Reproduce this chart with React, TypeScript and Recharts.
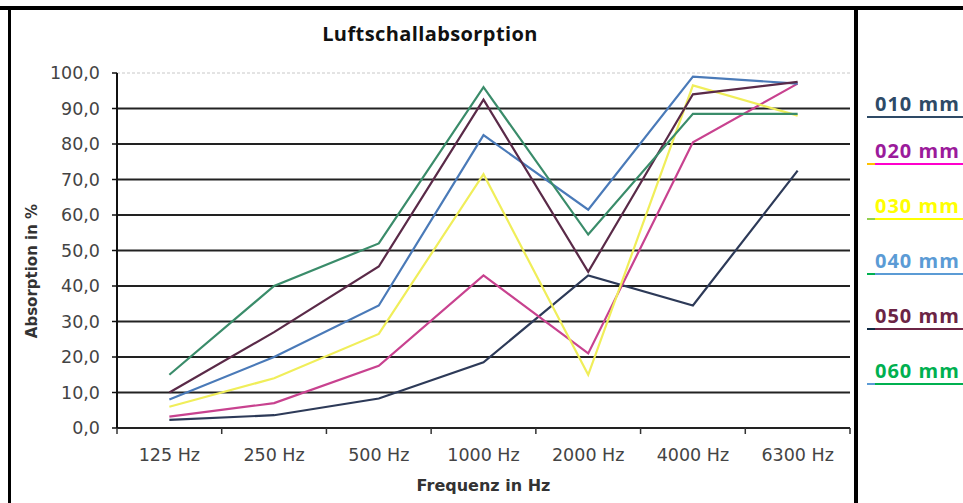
import { LineChart, Line, XAxis, YAxis, CartesianGrid, ReferenceLine } from "recharts";

const frequencies = ["125 Hz", "250 Hz", "500 Hz", "1000 Hz", "2000 Hz", "4000 Hz", "6300 Hz"];

const mm010 = [2.3, 3.6, 8.3, 18.5, 43, 34.5, 72.5];
const mm020 = [3.2, 7, 17.5, 43, 21, 80.5, 97];
const mm030 = [6, 14, 26.5, 71.5, 15, 96.5, 88];
const mm040 = [8, 20, 34.5, 82.5, 61.5, 99, 97];
const mm050 = [10, 27, 45.5, 92.5, 44, 94, 97.5];
const mm060 = [15, 40, 52, 96, 54.5, 88.5, 88.5];

const yTicks = [0, 10, 20, 30, 40, 50, 60, 70, 80, 90, 100];
const gridValues = [10, 20, 30, 40, 50, 60, 70, 80, 90];

const series = [
  { key: "s010", name: "010 mm", values: mm010, line: "#2d3a58", text: "#2e4a66", lead: "#2e4a66" },
  { key: "s020", name: "020 mm", values: mm020, line: "#c8428f", text: "#9b1b9b", lead: "#ffc000", under: "#ff00cc" },
  { key: "s030", name: "030 mm", values: mm030, line: "#f0ee5a", text: "#ffff00", lead: "#92d050" },
  { key: "s040", name: "040 mm", values: mm040, line: "#4a7ab8", text: "#5b9bd5", lead: "#00b050" },
  { key: "s050", name: "050 mm", values: mm050, line: "#5a2a48", text: "#6b2445", lead: "#0e2841" },
  { key: "s060", name: "060 mm", values: mm060, line: "#3a8c6a", text: "#00b050", lead: "#5b9bd5" },
];

const legendY = [105, 152, 207, 262, 317, 372];

const data = frequencies.map((freq, i) => {
  const row: Record<string, string | number> = { freq };
  series.forEach((s) => {
    row[s.key] = s.values[i];
  });
  return row;
});

const tickFont = { fontFamily: "DejaVu Sans", fontSize: 17.5, fill: "#444" };

function FreqTick(props: any) {
  const { x, y, payload, width, visibleTicksCount, index } = props;
  const half = payload.offset ?? width / visibleTicksCount / 2;
  return (
    <g>
      <line x1={x - half} x2={x - half} y1={y} y2={y + 6} stroke="#333" strokeWidth={1.5} />
      {index === visibleTicksCount - 1 && (
        <line x1={x + half} x2={x + half} y1={y} y2={y + 6} stroke="#333" strokeWidth={1.5} />
      )}
      <text x={x} y={y + 33} textAnchor="middle" {...tickFont}>
        {payload.value}
      </text>
    </g>
  );
}

function YLabel() {
  return (
    <text
      x={32}
      y={271}
      transform="rotate(-90, 32, 271)"
      textAnchor="middle"
      dominantBaseline="central"
      fontFamily="DejaVu Sans"
      fontWeight="bold"
      fontSize={15}
      fill="#333"
    >
      Absorption in %
    </text>
  );
}

export default function App() {
  return (
    <div
      style={{
        position: "absolute",
        left: 0,
        top: 0,
        width: 963,
        height: 503,
        background: "#fff",
        overflow: "hidden",
        fontFamily: "DejaVu Sans",
      }}
    >
      <LineChart width={860} height={503} data={data} margin={{ top: 73, right: 10, bottom: 0, left: 0 }}>
        <CartesianGrid horizontal vertical={false} horizontalValues={gridValues} stroke="#222" strokeWidth={2} />
        <ReferenceLine y={100} stroke="#c8c8c8" strokeDasharray="3 2" />
        <XAxis
          dataKey="freq"
          scale="band"
          height={75}
          tickLine={false}
          tickSize={0}
          tickMargin={0}
          axisLine={{ stroke: "#222", strokeWidth: 2 }}
          tick={<FreqTick />}
          interval={0}
          label={{
            value: "Frequenz in Hz",
            position: "insideBottom",
            offset: 12,
            style: { fontFamily: "DejaVu Sans", fontWeight: "bold", fontSize: 16, fill: "#333" },
          }}
        />
        <YAxis
          width={117}
          domain={[0, 100]}
          ticks={yTicks}
          interval={0}
          tickSize={5}
          tickMargin={12}
          tickFormatter={(v: number) => v.toFixed(1).replace(".", ",")}
          tick={tickFont}
          tickLine={{ stroke: "#111", strokeWidth: 1.5 }}
          axisLine={{ stroke: "#111", strokeWidth: 2 }}
          label={<YLabel />}
        />
        {series.map((s) => (
          <Line
            key={s.key}
            dataKey={s.key}
            name={s.name}
            type="linear"
            stroke={s.line}
            strokeWidth={2.2}
            dot={false}
            activeDot={false}
            isAnimationActive={false}
          />
        ))}
      </LineChart>

      <div
        style={{
          position: "absolute",
          left: 0,
          width: 860,
          top: 22,
          textAlign: "center",
          fontFamily: "Open Sans",
          fontWeight: 700,
          fontSize: 20,
          letterSpacing: 0.4,
          lineHeight: "24px",
          color: "#111",
        }}
      >
        Luftschallabsorption
      </div>

      <div style={{ position: "absolute", left: 0, top: 6, width: 963, height: 4, background: "#000" }} />
      <div style={{ position: "absolute", left: 8, top: 6, width: 3, height: 497, background: "#000" }} />
      <div style={{ position: "absolute", left: 854, top: 6, width: 4, height: 497, background: "#000" }} />

      {series.map((s, i) => (
        <div key={s.key}>
          <div
            style={{
              position: "absolute",
              left: 875,
              top: legendY[i] - 12.6,
              height: 24,
              lineHeight: "24px",
              whiteSpace: "nowrap",
              fontFamily: "Open Sans",
              fontWeight: 700,
              fontSize: 20,
              letterSpacing: 1,
              color: s.text,
            }}
          >
            {s.name}
          </div>
          <div
            style={{
              position: "absolute",
              left: 867,
              top: legendY[i] + 11,
              width: 8,
              height: 2,
              background: s.lead,
            }}
          />
          <div
            style={{
              position: "absolute",
              left: 875,
              top: legendY[i] + 11,
              width: 90,
              height: 2,
              background: s.under ?? s.text,
            }}
          />
        </div>
      ))}
    </div>
  );
}
